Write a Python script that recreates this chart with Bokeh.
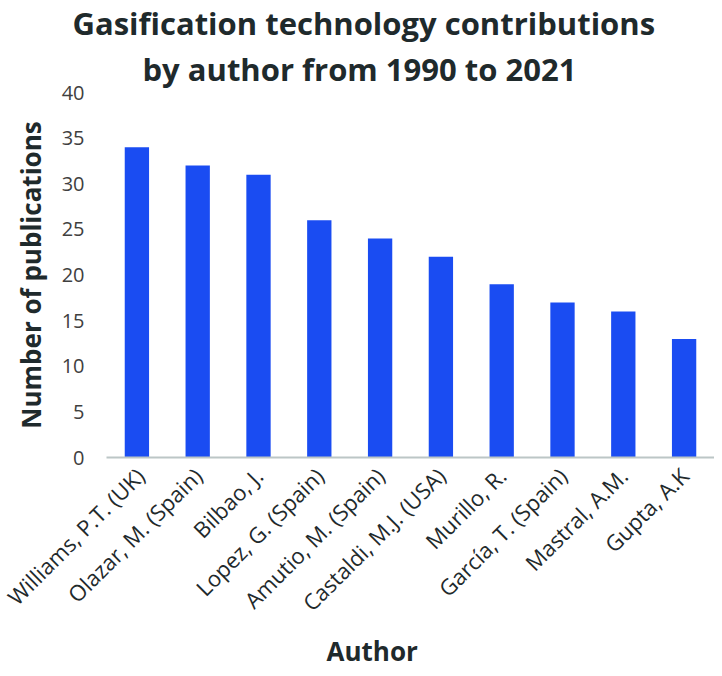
import math
from bokeh.plotting import figure
from bokeh.models import ColumnDataSource, Title
from bokeh.embed import file_html
from bokeh.resources import INLINE

authors = ["Williams, P.T. (UK)", "Olazar, M. (Spain)", "Bilbao, J.", "Lopez, G. (Spain)",
           "Amutio, M. (Spain)", "Castaldi, M.J. (USA)", "Murillo, R.", "García, T. (Spain)",
           "Mastral, A.M.", "Gupta, A.K"]
publications = [34, 32, 31, 26, 24, 22, 19, 17, 16, 13]
y_ticks = [0, 5, 10, 15, 20, 25, 30, 35, 40]
title_lines = ["Gasification technology contributions", "by author from 1990 to 2021"]
x_title = "Author"
y_title = "Number of publications"

FONT = "Open Sans"
TXT = "#1f2a2c"

src = ColumnDataSource(dict(author=authors, n=publications))

p = figure(x_range=authors, y_range=(0, 40), width=714, height=668,
           output_backend="svg", toolbar_location=None,
           min_border_left=106, min_border_right=0, min_border_top=0, min_border_bottom=150)
p.vbar(x="author", top="n", width=0.4, source=src, fill_color="#1a4cf2", line_color=None)

p.title.text = title_lines[0]
p.title.text_font = FONT
p.title.text_font_size = "31px"
p.title.text_font_style = "bold"
p.title.text_color = TXT
p.title.align = "left"
p.title.offset = -34
p.title.standoff = -2
p.add_layout(Title(text=title_lines[1], text_font=FONT,
                   text_font_size="31px", text_font_style="bold", text_color=TXT,
                   align="left", offset=36, standoff=6), "above")

p.xgrid.visible = False
p.ygrid.visible = False
p.outline_line_color = None

p.yaxis.ticker = y_ticks
p.yaxis.axis_line_color = None
p.yaxis.major_tick_line_color = None
p.yaxis.minor_tick_line_color = None
p.yaxis.major_tick_out = 0
p.yaxis.major_label_standoff = 22
p.yaxis.major_label_text_font = FONT
p.yaxis.major_label_text_font_size = "20px"
p.yaxis.major_label_text_color = "#404040"
p.yaxis.axis_label = y_title
p.yaxis.axis_label_text_font = FONT
p.yaxis.axis_label_text_font_size = "26px"
p.yaxis.axis_label_text_font_style = "bold"
p.yaxis.axis_label_text_color = TXT
p.yaxis.axis_label_standoff = 10

p.xaxis.axis_line_color = "#bcc6c6"
p.xaxis.axis_line_width = 2
p.xaxis.major_tick_line_color = None
p.xaxis.minor_tick_line_color = None
p.xaxis.major_tick_out = 0
p.xaxis.major_label_orientation = math.pi / 4
p.xaxis.major_label_standoff = 14
p.xaxis.major_label_text_font = FONT
p.xaxis.major_label_text_font_size = "22px"
p.xaxis.major_label_text_color = TXT

p.add_layout(Title(text=x_title, text_font=FONT, text_font_size="26px",
                   text_font_style="bold", text_color=TXT, align="left",
                   offset=220, standoff=0), "below")

open("out.html", "w").write(file_html(p, INLINE))
